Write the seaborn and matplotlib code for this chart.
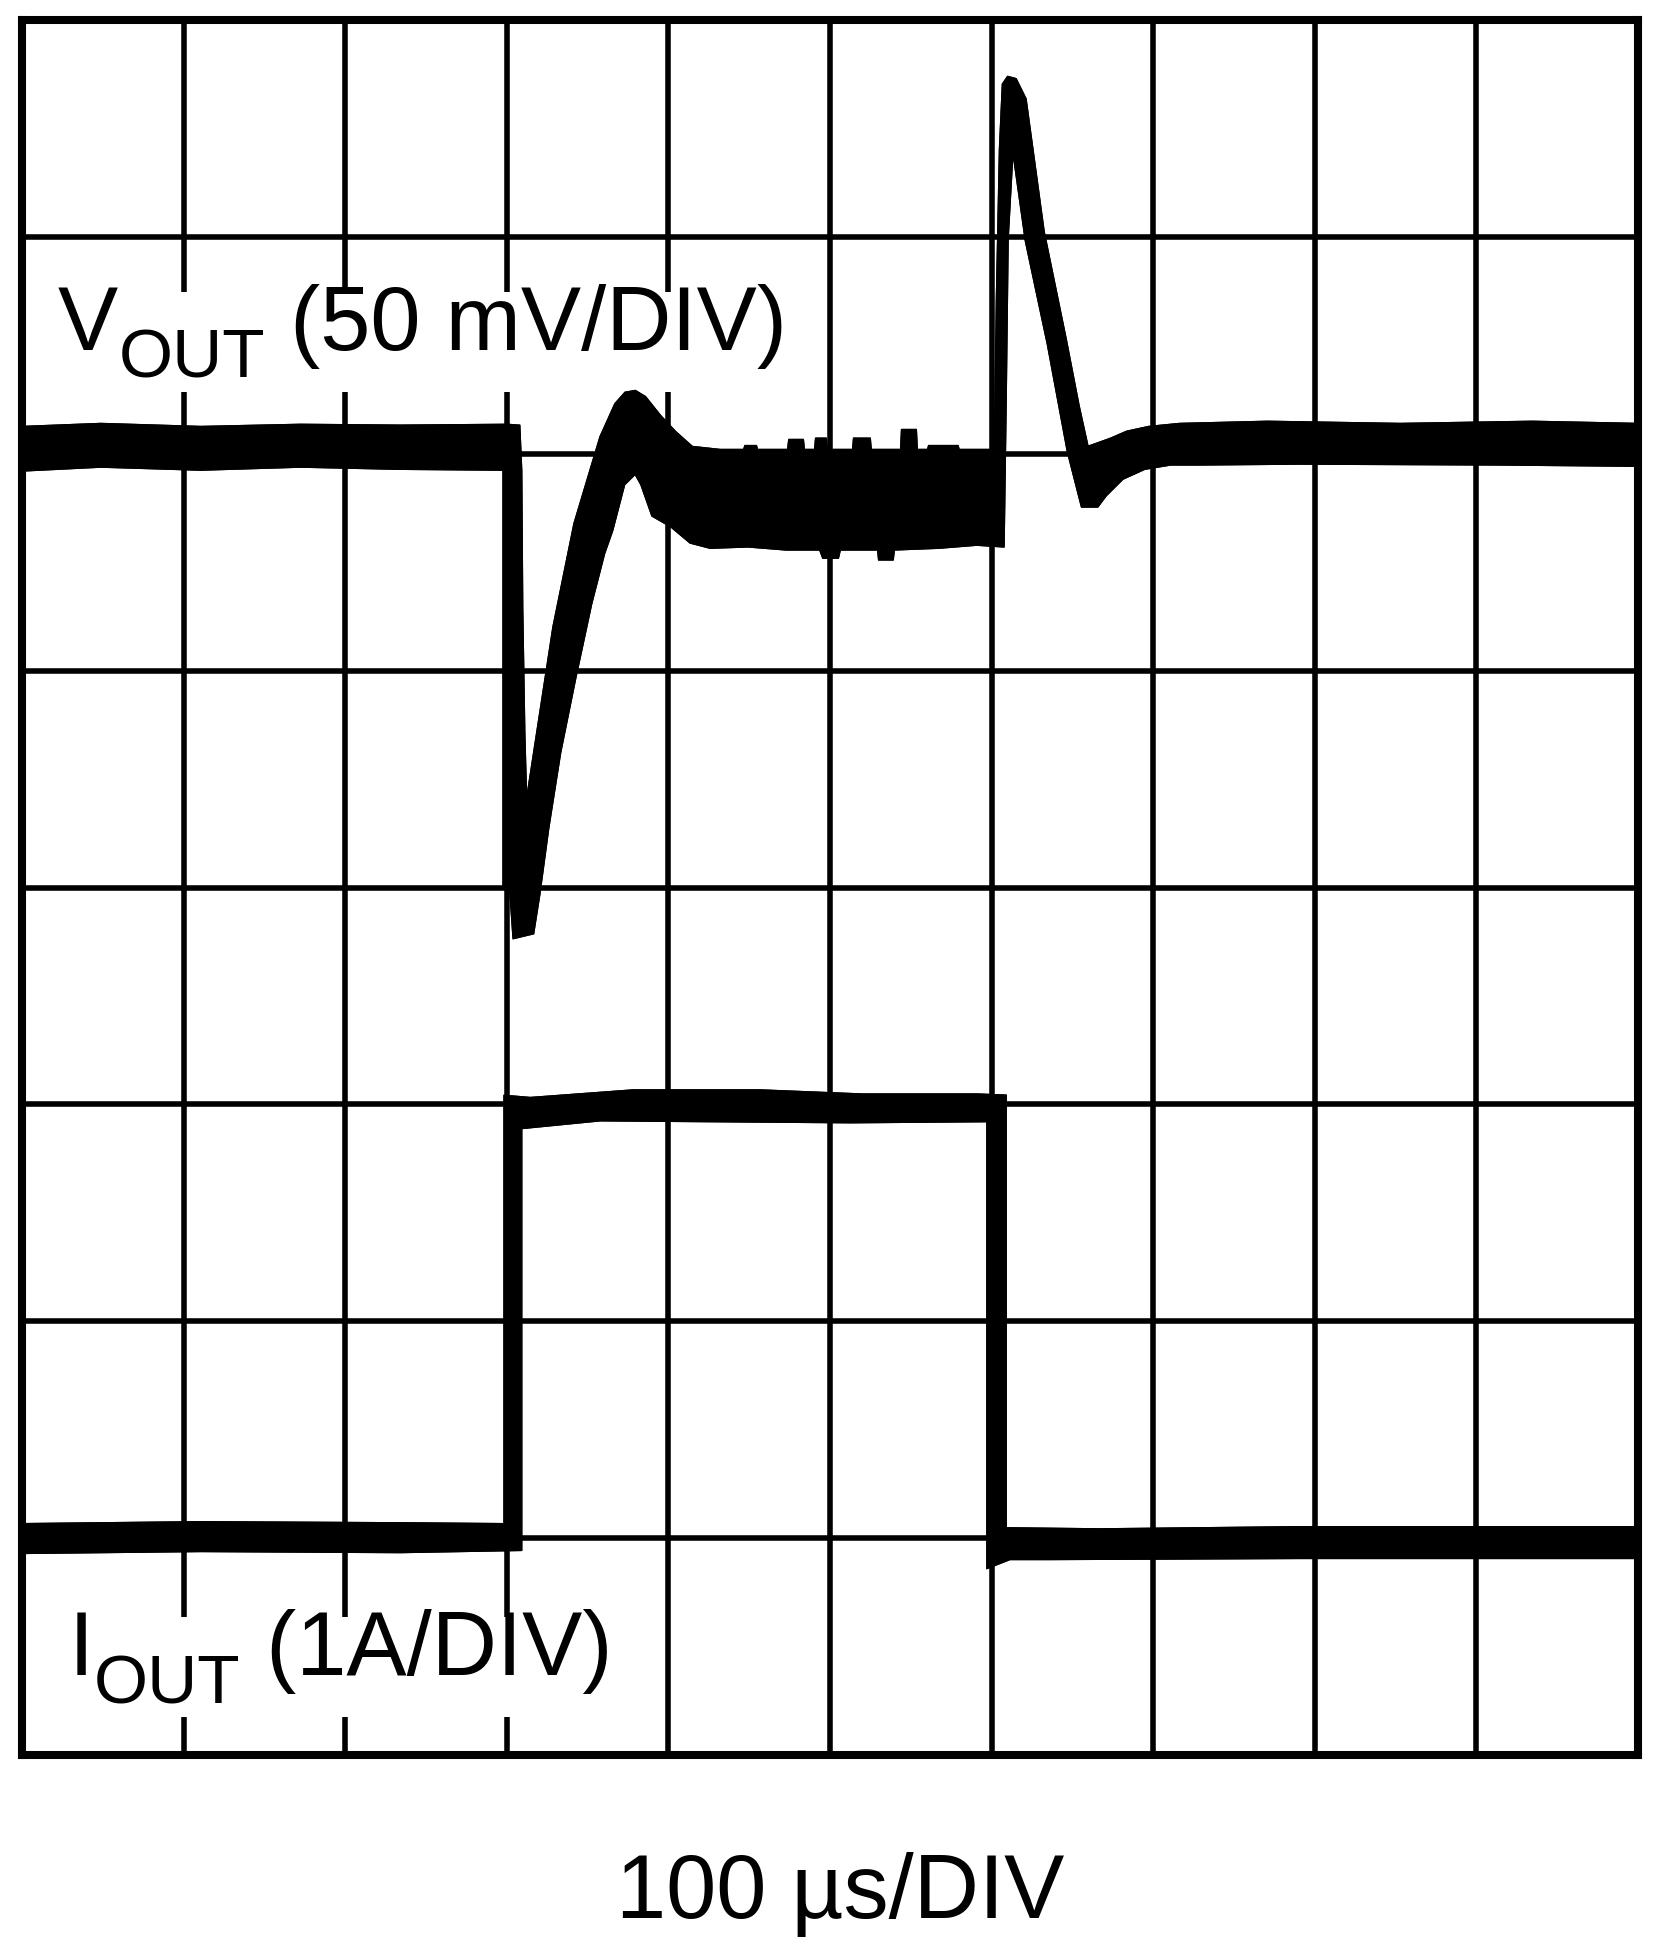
import matplotlib
matplotlib.use("Agg")
import matplotlib.pyplot as plt
import matplotlib.transforms as mtransforms
from matplotlib.patches import Rectangle
import numpy as np
import seaborn as sns

# scope settings
t_per_div = 100.0   # us / DIV
v_per_div = 50.0    # mV / DIV
i_per_div = 1.0     # A / DIV
v_ground = 6.0      # VOUT reference level (DIV from bottom)
i_ground = 1.0      # IOUT zero level (DIV from bottom)

# VOUT envelope (min/max of the noisy trace), t in us, deviation in mV
vout_hi_t = [0, 48.8, 110.6, 172.4, 234.2, 300.4, 307.8, 309.0, 309.6, 310.9, 312.1,
             328.8, 341.8, 357.9, 367.1, 373.3, 379.5, 385.7, 394.9, 404.2, 414.7,
             432.0, 446.8, 447.5, 454.3, 454.9, 474.0, 474.7, 483.3, 483.9, 490.7,
             491.3, 497.5, 498.1, 514.2, 514.8, 524.7, 525.3, 543.9, 544.5, 553.2,
             553.8, 560.6, 561.2, 579.1, 579.7, 600.7, 602.0, 603.2, 605.1, 606.9,
             610.0, 615.0, 621.1, 632.3, 645.9, 653.9, 659.5, 673.7, 683.6, 697.2,
             716.3, 770.7, 852.9, 934.5, 1000]
vout_hi_mv = [6.2, 6.9, 6.2, 6.7, 6.5, 6.7, 6.5, -3.9, -35.5, -64.5, -80.4,
              -39.9, -16.1, 3.9, 11.5, 14.1, 14.5, 13.1, 8.8, 5.1, 1.6,
              0.9, 0.9, 1.8, 1.8, 0.9, 0.9, 3.2, 3.2, 0.9, 0.9,
              3.5, 3.5, 0.9, 0.9, 3.5, 3.5, 0.9, 0.9, 5.5, 5.5,
              0.9, 0.9, 1.8, 1.8, 0.9, 0.9, 1.2, 35.7, 70.3, 85.2,
              86.9, 86.4, 81.8, 51.2, 26.5, 11.1, 1.6, 3.5, 5.1, 6.2,
              6.9, 7.4, 6.9, 7.4, 6.9]
vout_lo_t = [0, 48.8, 110.6, 172.4, 234.2, 297.9, 297.9, 302.2, 304.1, 316.4, 320.2,
             325.7, 333.1, 342.4, 352.3, 360.3, 365.3, 372.7, 379.5, 383.2, 390.0,
             401.7, 413.5, 425.8, 449.3, 472.8, 493.8, 495.7, 505.0, 506.2, 529.7,
             530.3, 538.9, 539.6, 567.4, 590.8, 607.5, 608.8, 610.0, 613.1, 621.1,
             634.7, 647.1, 655.8, 665.6, 670.6, 681.1, 694.7, 710.8, 728.7, 790.5,
             914.1, 1000]
vout_lo_mv = [-3.9, -3.0, -3.7, -3.0, -3.5, -3.7, -100.2, -101.4, -111.7, -110.6, -101.6,
              -86.4, -68.9, -51.8, -34.6, -23.0, -17.7, -7.1, -4.6, -7.1, -14.3,
              -16.8, -20.5, -21.7, -21.4, -22.1, -22.1, -24.0, -24.0, -22.1, -22.1,
              -24.4, -24.4, -22.1, -21.7, -21.0, -21.4, 12.7, 49.5, 70.3, 49.1,
              25.3, 0.5, -12.2, -12.2, -9.7, -5.8, -3.5, -2.5, -2.5, -2.3,
              -2.5, -2.8]

# IOUT envelope, t in us, current in A
iout_hi_t = [0, 110.6, 234.2, 298.5, 298.5, 314.6, 378.2, 456.7, 520.4, 591.5,
             608.8, 608.8, 666.9, 790.5, 1000]
iout_hi_a = [0.065, 0.074, 0.069, 0.065, 2.04, 2.03, 2.065, 2.065, 2.046, 2.046,
             2.041, 0.046, 0.041, 0.051, 0.051]
iout_lo_t = [0, 110.6, 234.2, 309.0, 309.0, 357.9, 425.8, 512.4, 597.3, 597.3,
             611.3, 636.0, 790.5, 1000]
iout_lo_a = [-0.069, -0.060, -0.065, -0.055, 1.89, 1.926, 1.922, 1.917, 1.922, -0.138,
             -0.097, -0.097, -0.092, -0.092]

W, H = 1653, 1957
sns.set_style("white")
plt.rcParams['font.family'] = ['Liberation Sans', 'DejaVu Sans']
plt.rcParams['text.color'] = 'black'

fig = plt.figure(figsize=(W / 100, H / 100), dpi=100)
ax = fig.add_axes([22 / W, 1 - 1755 / H, 1616 / W, 1735 / H])


def draw_trace(t_hi, y_hi, t_lo, y_lo, per_div, ground):
    yh = ground + np.asarray(y_hi) / per_div
    yl = ground + np.asarray(y_lo) / per_div
    xs = np.r_[t_hi, t_lo[::-1]]
    ys = np.r_[yh, yl[::-1]]
    ax.fill(xs, ys, color='black', lw=1.5, zorder=3)
    sns.lineplot(x=t_hi, y=yh, sort=False, estimator=None, color='black', lw=1.5, ax=ax, zorder=3)
    sns.lineplot(x=t_lo, y=yl, sort=False, estimator=None, color='black', lw=1.5, ax=ax, zorder=3)


draw_trace(vout_hi_t, vout_hi_mv, vout_lo_t, vout_lo_mv, v_per_div, v_ground)
draw_trace(iout_hi_t, iout_hi_a, iout_lo_t, iout_lo_a, i_per_div, i_ground)

# labels in pixel positions (x from left, baseline from top)
ident = mtransforms.IdentityTransform()
renderer = fig.canvas.get_renderer()


def scope_label(x_px, base_px, main, sub, rest, size=65, sub_size=50, drop=28):
    yb = H - base_px
    t1 = ax.text(x_px, yb, main, fontsize=size, color='black', transform=ident,
                 va='baseline', ha='left', zorder=4)
    e1 = t1.get_window_extent(renderer)
    t2 = ax.text(e1.x1, yb - drop, sub, fontsize=sub_size, color='black', transform=ident,
                 va='baseline', ha='left', zorder=4)
    e2 = t2.get_window_extent(renderer)
    t3 = ax.text(e2.x1, yb, rest, fontsize=size, color='black', transform=ident,
                 va='baseline', ha='left', zorder=4)
    e3 = t3.get_window_extent(renderer)
    x0, x1 = e1.x0, e3.x1
    y0 = min(e1.y0, e2.y0, e3.y0)
    y1 = max(e1.y1, e2.y1, e3.y1) - 8
    ax.add_patch(Rectangle((x0, y0), x1 - x0, y1 - y0, transform=ident,
                           facecolor='white', edgecolor='none', zorder=1.5))


scope_label(58, 350, "V", "OUT", " (50 mV/DIV)")
scope_label(69, 1675, "I", "OUT", " (1A/DIV)")

ax.text(840, H - 1918, "100 µs/DIV", fontsize=65, color='black', transform=ident,
        ha='center', va='baseline')

ax.set_xlim(0, 10 * t_per_div)
ax.set_ylim(0, 8)
ax.set_xticks(np.arange(0, 10 * t_per_div + 1, t_per_div))
ax.set_yticks(np.arange(0, 9))
ax.tick_params(length=0, labelbottom=False, labelleft=False)
ax.grid(True, color='black', linewidth=4.0)
ax.set_axisbelow(True)
ax.set_xlabel("")
ax.set_ylabel("")
for s in ax.spines.values():
    s.set_visible(True)
    s.set_color('black')
    s.set_linewidth(5.8)

fig.savefig("out.png", dpi=100)
